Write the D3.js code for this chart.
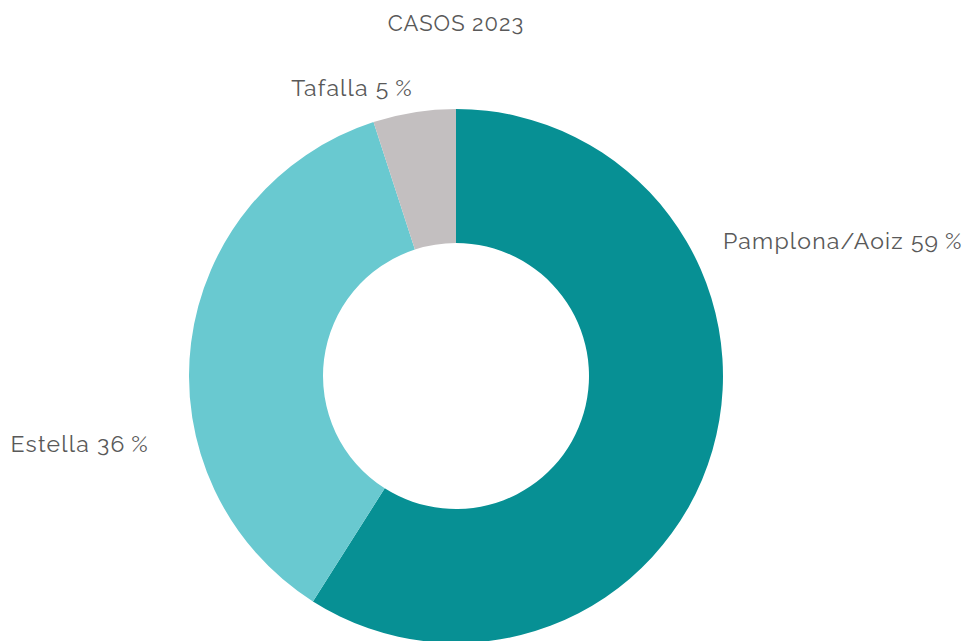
<!DOCTYPE html>
<html><head><meta charset="utf-8">
<script src="https://cdn.jsdelivr.net/npm/d3@7"></script>
<style>body{margin:0;background:#fff}svg{display:block}text{font-family:Raleway,Lato,"Open Sans",sans-serif;fill:#595959;font-weight:400}</style>
</head><body><svg id="c" width="965" height="641"></svg>
<script>
const title = "CASOS 2023";
const categories = ["Pamplona/Aoiz", "Estella", "Tafalla"];
const values = [59, 36, 5];
const colors = ["#079094", "#69C9D0", "#C3BFC0"];

const svg = d3.select("#c");
const cx = 456, cy = 376, R = 267, r = 133;
const g = svg.append("g").attr("transform", `translate(${cx},${cy})`);
const pie = d3.pie().sort(null).value(d => d)(values);
const arc = d3.arc().innerRadius(r).outerRadius(R);
g.selectAll("path").data(pie).join("path").attr("d", arc).attr("fill", (d, i) => colors[i]);

svg.append("text").attr("x", 456).attr("y", 31).attr("text-anchor", "middle").attr("font-size", 22).attr("letter-spacing", 1).text(title);

const labelPos = [
  {x: cx + R, y: 249, anchor: "start"},
  {x: 149, y: 452, anchor: "end"},
  {x: 413, y: 96, anchor: "end"}
];
svg.selectAll("text.lbl").data(categories).join("text").attr("class", "lbl")
  .attr("x", (d, i) => labelPos[i].x).attr("y", (d, i) => labelPos[i].y)
  .attr("text-anchor", (d, i) => labelPos[i].anchor).attr("font-size", 23).attr("letter-spacing", 1.2)
  .text((d, i) => `${d} ${values[i]}\u2009%`);
</script></body></html>
